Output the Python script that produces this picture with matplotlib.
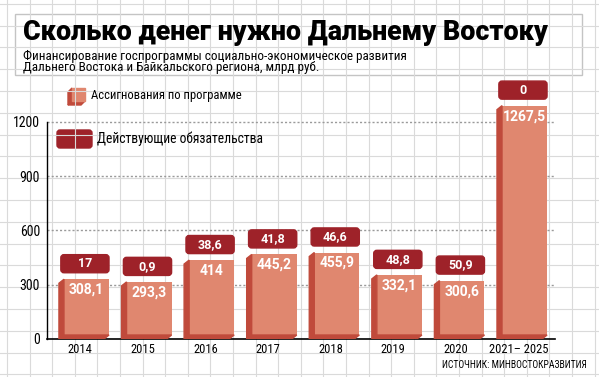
import matplotlib
matplotlib.use("Agg")
import matplotlib.pyplot as plt
from matplotlib.patches import Rectangle, Polygon, FancyBboxPatch
import numpy as np

# data (млрд руб.)
years = ["2014", "2015", "2016", "2017", "2018", "2019", "2020", "2021– 2025"]
allocations = [308.1, 293.3, 414, 445.2, 455.9, 332.1, 300.6, 1267.5]
obligations = [17, 0.9, 38.6, 41.8, 46.6, 48.8, 50.9, 0]
y_ticks = [0, 300, 600, 900, 1200]

FRONT = "#e0876f"
SIDE = "#c04a3b"
BOX = "#9e2229"
PAPER = "#dadada"
NARROW = ["Roboto Condensed", "DejaVu Sans"]


def fmt(v):
    return f"{v:g}".replace(".", ",")


W, H = 599, 377
fig = plt.figure(figsize=(W / 100, H / 100), dpi=100)

# background "graph paper" + title box, in pixel coordinates
bg = fig.add_axes([0, 0, 1, 1], zorder=0)
bg.set_xlim(0, W)
bg.set_ylim(H, 0)
bg.axis("off")
for gx in np.arange(7, W, 22.6):
    bg.axvline(gx, color=PAPER, lw=0.8)
for gy in np.arange(3.8, H, 21.8):
    bg.axhline(gy, color=PAPER, lw=0.8)
bg.add_patch(Rectangle((15, 14), 567, 61, fc="white", ec="#c4c4c4", lw=1))

title = bg.text(23, 33, "Сколько денег нужно Дальнему Востоку", ha="left", va="center",
                fontsize=17, fontweight=900, family="Roboto")
sub1 = bg.text(23, 56, "Финансирование госпрограммы социально-экономическое развития",
               ha="left", va="center", fontsize=9, family=NARROW)
sub2 = bg.text(23, 68, "Дальнего Востока и Байкальского региона, млрд руб.",
               ha="left", va="center", fontsize=9, family=NARROW)

# legend
bg.add_patch(Polygon([(68, 92), (72, 88), (72, 101), (68, 105)], color=SIDE))
bg.add_patch(Polygon([(68, 105), (81, 105), (85, 101), (72, 101)], color=SIDE))
bg.add_patch(Rectangle((72, 88), 13, 13, color=FRONT))
leg1 = bg.text(91, 96, "Ассигнования по программе", ha="left", va="center",
               fontsize=9, family=NARROW)
bg.add_patch(FancyBboxPatch((57, 130), 35, 18, boxstyle="round,pad=0,rounding_size=3",
                            color=BOX))
leg2 = bg.text(97, 139, "Действующие обязательства", ha="left", va="center",
               fontsize=9, family=NARROW)
src = bg.text(587, 365, "ИСТОЧНИК: МИНВОСТОКРАЗВИТИЯ", ha="right", va="center",
              fontsize=8, family=NARROW)

# fit text widths to the reference
r = fig.canvas.get_renderer()
for t, target in [(title, 525), (sub1, 388), (leg1, 151), (leg2, 168), (src, 145)]:
    t.set_fontsize(t.get_fontsize() * target / t.get_window_extent(r).width)
sub2.set_fontsize(sub1.get_fontsize())

# main chart
ax = fig.add_axes([47 / W, (H - 339) / H, 508 / W, 264 / H], zorder=1)
ax.patch.set_alpha(0)
ax.set_xlim(-0.631, 7.487)
ax.set_ylim(0, 1459)

x = np.arange(len(years))
w = 0.72   # front face width
s = 0.08   # side depth (x)
dv = 22    # side depth (y)

for t in y_ticks[1:]:
    ax.axhline(t, color="#9a9a9a", ls=(0, (1.5, 1.5)), lw=1, zorder=0.5)

ax.bar(x, allocations, width=w, bottom=dv, color=FRONT, zorder=3)
for xi, v, o in zip(x, allocations, obligations):
    xl = xi - w / 2
    ax.add_patch(Polygon([(xl - s, 0), (xl - s, v), (xl, v + dv), (xl, dv)], color=SIDE, zorder=3))
    ax.add_patch(Polygon([(xl - s, 0), (xl + w - s, 0), (xl + w, dv), (xl, dv)], color=SIDE, zorder=3))
    ax.text(xi, v + dv - 58, fmt(v), ha="center", va="center", color="white",
            fontsize=10, fontweight="bold", family="Roboto", zorder=4)
    ax.add_patch(FancyBboxPatch((xl - 0.05, v + 58), w + 0.05, 100,
                                boxstyle="round,pad=0,rounding_size=0.05",
                                mutation_aspect=345, color=BOX, zorder=3))
    ax.text(xi - 0.025, v + 108, fmt(o), ha="center", va="center", color="white",
            fontsize=9, fontweight="bold", family="Roboto", zorder=4)

for side in ["top", "right"]:
    ax.spines[side].set_visible(False)
ax.spines["left"].set_bounds(0, 1200)
ax.spines["left"].set_linewidth(1)
ax.spines["bottom"].set_linewidth(1.2)
ax.set_yticks(y_ticks)
ax.set_yticklabels([str(t) for t in y_ticks], family=NARROW, fontsize=10)
ax.set_xticks(x - 0.1)
ax.set_xticklabels(years, family=NARROW, fontsize=9)
ax.tick_params(length=0)
ax.tick_params(axis="y", pad=5)
ax.tick_params(axis="x", pad=3)

fig.savefig("out.png", dpi=100)
